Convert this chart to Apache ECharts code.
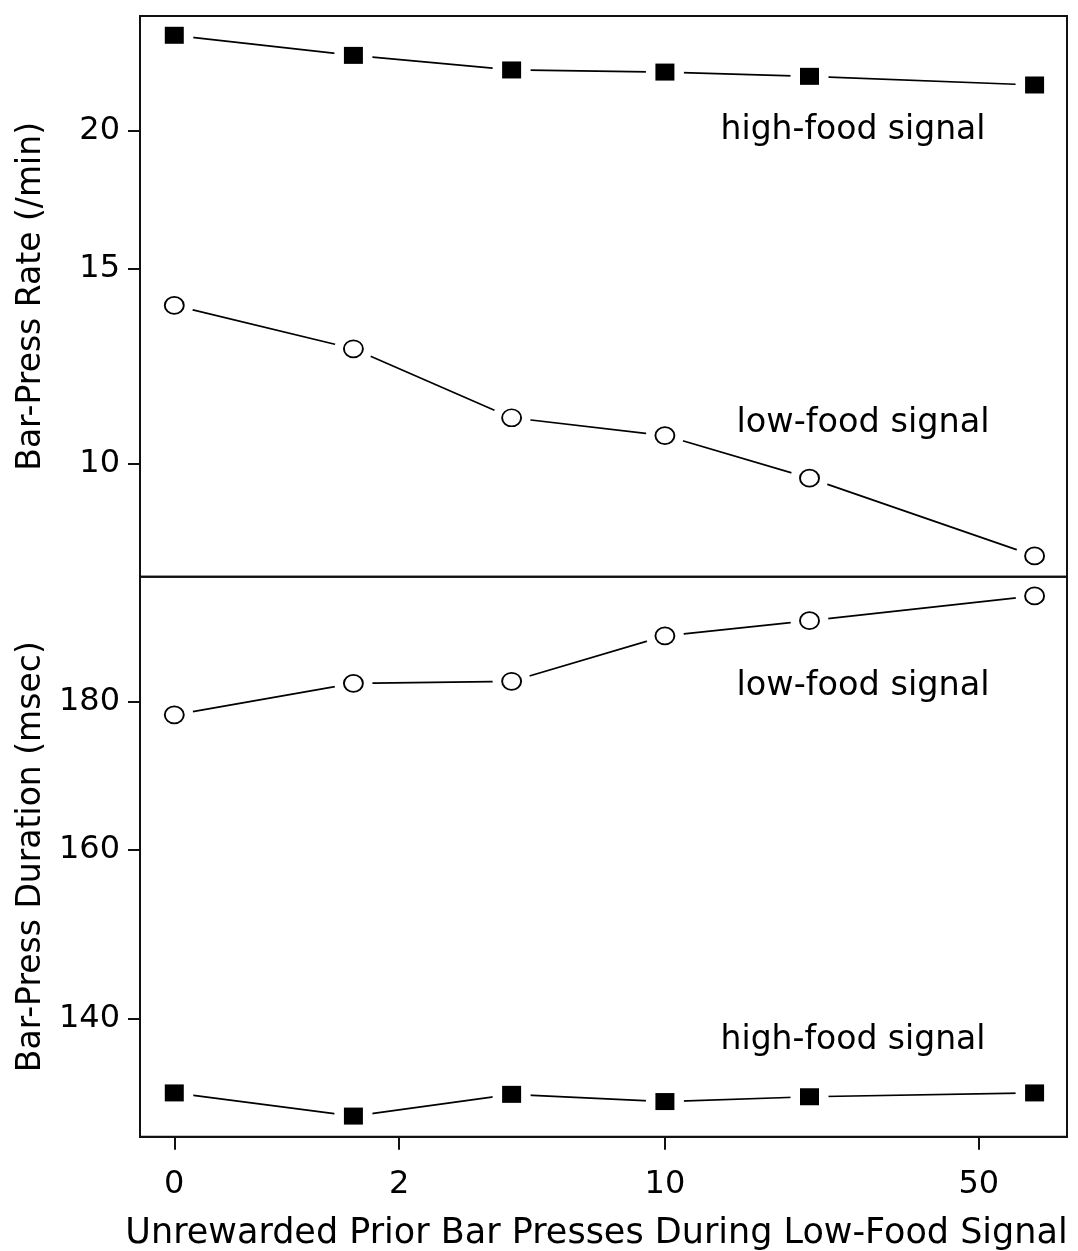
<!DOCTYPE html>
<html><head><meta charset="utf-8">
<script src="https://cdn.jsdelivr.net/npm/echarts@6/dist/echarts.min.js"></script>
<style>html,body{margin:0;padding:0;background:#fff}#chart{width:1078px;height:1251px}</style>
</head><body><div id="chart"></div>
<script>
// ---- data ----
const priorPresses = [0, 1.4, 4.2, 10, 21.3, 66];          // unrewarded prior bar presses (x)
const rateHigh     = [24.4, 23.4, 22.7, 22.6, 22.4, 22.0];  // bar-press rate, high-food signal
const rateLow      = [13.9, 12.7, 11.0, 10.6, 9.7, 8.25];   // bar-press rate, low-food signal
const durationLow  = [178.1, 182.6, 182.9, 189.6, 191.9, 195.7]; // duration, low-food signal
const durationHigh = [132.0, 129.6, 131.85, 131.1, 131.6, 132.0]; // duration, high-food signal
const xTickLabels  = [0, 2, 10, 50];
const rateTicks    = [10, 15, 20];
const durationTicks = [140, 160, 180];
const rateRange = [7.9, 25.4];
const durationRange = [127.5, 198.7];
const xRange = [-0.1543, 77.5];   // in presses; axis is log(1 + presses)
const xTitle = 'Unrewarded Prior Bar Presses During Low-Food Signal';
const rateTitle = 'Bar-Press Rate (/min)';
const durationTitle = 'Bar-Press Duration (msec)';
const labelHigh = 'high-food signal';
const labelLow = 'low-food signal';

// ---- layout / style ----
const FONT = 'DejaVu Sans';
const shift = v => v + 1;   // log(1 + x) axis
const pairs = vals => priorPresses.map((x, i) => [shift(x), vals[i]]);

function lineWithHalo(gi, vals, shape) {
  return {
    type: 'line', xAxisIndex: gi, yAxisIndex: gi, data: pairs(vals),
    symbol: shape, symbolSize: [38, 36],
    itemStyle: { color: '#fff', borderWidth: 0, opacity: 1 },
    lineStyle: { color: '#000', width: 1.7 },
    emphasis: { disabled: true }, silent: true, z: 2, animation: false
  };
}
function markers(gi, vals, shape) {
  return {
    type: 'scatter', xAxisIndex: gi, yAxisIndex: gi, data: pairs(vals),
    symbol: shape, symbolSize: [19, 17],
    itemStyle: shape === 'rect'
      ? { color: '#000', opacity: 1 }
      : { color: '#fff', borderColor: '#000', borderWidth: 1.8, opacity: 1 },
    emphasis: { disabled: true }, silent: true, z: 3, animation: false
  };
}

const xCommon = {
  type: 'log', min: shift(xRange[0]), max: shift(xRange[1]),
  splitLine: { show: false }, minorTick: { show: false }
};
function yAxis(gi, range, ticks, title) {
  return {
    type: 'log', gridIndex: gi, min: range[0], max: range[1],
    name: title, nameLocation: 'middle', nameGap: 92, nameRotate: 90,
    nameTextStyle: { fontFamily: FONT, fontSize: 33, color: '#000' },
    axisLine: { show: true, lineStyle: { color: '#111', width: 2 } },
    axisTick: { show: true, customValues: ticks, length: 12, lineStyle: { color: '#111', width: 2 } },
    axisLabel: { customValues: ticks, margin: 20, fontFamily: FONT, fontSize: 32, color: '#000' },
    splitLine: { show: false }, minorTick: { show: false }
  };
}

const gridBase = { left: 140, width: 927, show: true, borderColor: '#111', borderWidth: 2, z: 10,
                   containLabel: false, outerBoundsMode: 'none' };
const option = {
  animation: false,
  backgroundColor: '#fff',
  grid: [
    Object.assign({ top: 16, height: 560.7 }, gridBase),
    Object.assign({ top: 576.7, height: 560 }, gridBase)
  ],
  xAxis: [
    Object.assign({ gridIndex: 0, show: false }, xCommon),
    Object.assign({
      gridIndex: 1,
      name: xTitle, nameLocation: 'middle', nameGap: 80,
      nameTextStyle: { fontFamily: FONT, fontSize: 35, color: '#000', padding: [0, 14, 0, 0] },
      axisLine: { show: true, lineStyle: { color: '#111', width: 2 } },
      axisTick: { show: true, customValues: xTickLabels.map(shift), length: 13, lineStyle: { color: '#111', width: 2 } },
      axisLabel: { customValues: xTickLabels.map(shift), margin: 32, fontFamily: FONT, fontSize: 32, color: '#000',
                   formatter: v => String(Math.round(v - 1)) }
    }, xCommon)
  ],
  yAxis: [
    yAxis(0, rateRange, rateTicks, rateTitle),
    yAxis(1, durationRange, durationTicks, durationTitle)
  ],
  series: [
    lineWithHalo(0, rateHigh, 'rect'), markers(0, rateHigh, 'rect'),
    lineWithHalo(0, rateLow, 'circle'), markers(0, rateLow, 'circle'),
    lineWithHalo(1, durationLow, 'circle'), markers(1, durationLow, 'circle'),
    lineWithHalo(1, durationHigh, 'rect'), markers(1, durationHigh, 'rect')
  ],
  graphic: [
    { type: 'text', x: 853, y: 130, z: 100, style: { text: labelHigh, fontFamily: FONT, fontSize: 33, fill: '#000', align: 'center', verticalAlign: 'middle' } },
    { type: 'text', x: 863, y: 423, z: 100, style: { text: labelLow, fontFamily: FONT, fontSize: 33.5, fill: '#000', align: 'center', verticalAlign: 'middle' } },
    { type: 'text', x: 863, y: 686, z: 100, style: { text: labelLow, fontFamily: FONT, fontSize: 33.5, fill: '#000', align: 'center', verticalAlign: 'middle' } },
    { type: 'text', x: 853, y: 1040, z: 100, style: { text: labelHigh, fontFamily: FONT, fontSize: 33, fill: '#000', align: 'center', verticalAlign: 'middle' } }
  ]
};
const chart = echarts.init(document.getElementById('chart'), null, { renderer: 'canvas' });
chart.setOption(option);
</script></body></html>
